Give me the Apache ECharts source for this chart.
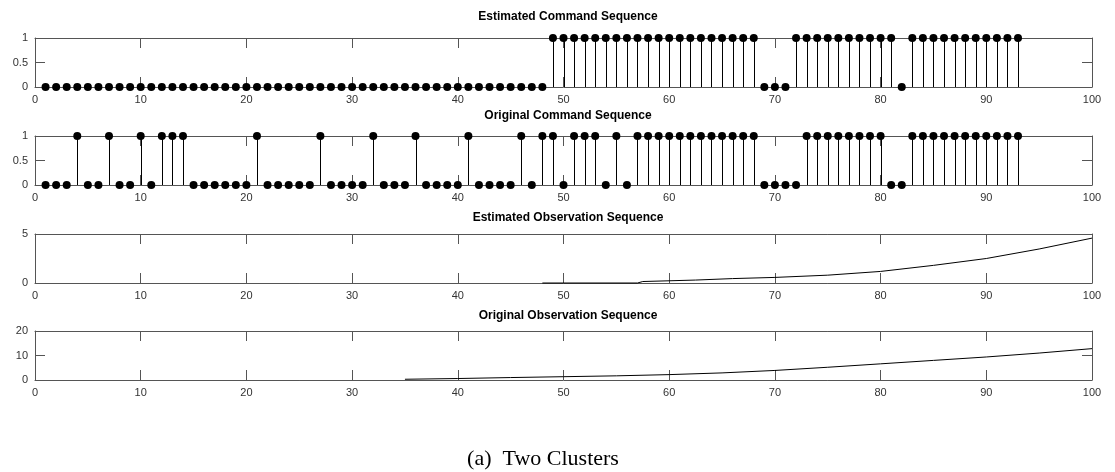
<!DOCTYPE html>
<html>
<head>
<meta charset="utf-8">
<script src="https://cdn.jsdelivr.net/npm/echarts@6/dist/echarts.min.js"></script>
<style>
html,body{margin:0;padding:0;background:#fff;}
#chart{width:1115px;height:472px;}
</style>
</head>
<body>
<div id="chart"></div>
<script>
// ---- data ----
const titles = ['Estimated Command Sequence', 'Original Command Sequence',
                'Estimated Observation Sequence', 'Original Observation Sequence'];
const caption = '(a)  Two Clusters';

const estimatedCommand = [
  0,0,0,0,0,0,0,0,0,0,
  0,0,0,0,0,0,0,0,0,0,
  0,0,0,0,0,0,0,0,0,0,
  0,0,0,0,0,0,0,0,0,0,
  0,0,0,0,0,0,0,0,1,1,
  1,1,1,1,1,1,1,1,1,1,
  1,1,1,1,1,1,1,1,0,0,
  0,1,1,1,1,1,1,1,1,1,
  1,0,1,1,1,1,1,1,1,1,
  1,1,1
];
const originalCommand = [
  0,0,0,1,0,0,1,0,0,1,
  0,1,1,1,0,0,0,0,0,0,
  1,0,0,0,0,0,1,0,0,0,
  0,1,0,0,0,1,0,0,0,0,
  1,0,0,0,0,1,0,1,1,0,
  1,1,1,0,1,0,1,1,1,1,
  1,1,1,1,1,1,1,1,0,0,
  0,0,1,1,1,1,1,1,1,1,
  0,0,1,1,1,1,1,1,1,1,
  1,1,1
];
const estObsX = [48, 57, 57.5, 62.5, 66, 70, 75, 80, 85, 90, 95, 100];
const estObsY = [0, 0, 0.15, 0.3, 0.45, 0.57, 0.8, 1.18, 1.8, 2.5, 3.47, 4.58];
const origObsX = [35, 40, 45, 50, 55, 60, 65, 70, 75, 80, 85, 90, 95, 100];
const origObsY = [0.3, 0.6, 1.0, 1.35, 1.7, 2.2, 2.9, 3.9, 5.2, 6.6, 8.0, 9.4, 11.0, 12.8];

const xTicks = {min: 0, max: 100, interval: 10};
const yTicks = [
  {min: 0, max: 1, interval: 0.5},
  {min: 0, max: 1, interval: 0.5},
  {min: 0, max: 5, interval: 5},
  {min: 0, max: 20, interval: 10}
];

// ---- layout ----
const gridTops = [38, 136, 234, 331];
const titleTops = [6, 105, 207, 305];
const gridH = 49;
const gridLeft = 35, gridRight = 23;
const axisColor = '#555';
const labelColor = '#333';
const font = 'Liberation Sans, Arial, Helvetica, sans-serif';

const chart = echarts.init(document.getElementById('chart'), null, {renderer: 'canvas'});

const grids = [], xAxes = [], yAxes = [], series = [], titleArr = [];
const lineStyle = {color: axisColor, width: 1};

gridTops.forEach((top, k) => {
  grids.push({left: gridLeft, right: gridRight, top: top, height: gridH, containLabel: false});
  xAxes.push({
    type: 'value', gridIndex: k, position: 'bottom', ...xTicks,
    axisLine: {show: true, onZero: false, lineStyle},
    axisTick: {show: true, inside: true, length: 10, lineStyle},
    axisLabel: {show: true, color: labelColor, fontSize: 11, fontFamily: font, margin: 7},
    splitLine: {show: false}
  });
  xAxes.push({
    type: 'value', gridIndex: k, position: 'top', ...xTicks,
    axisLine: {show: true, onZero: false, lineStyle},
    axisTick: {show: true, inside: true, length: 10, lineStyle},
    axisLabel: {show: false},
    splitLine: {show: false}
  });
  yAxes.push({
    type: 'value', gridIndex: k, position: 'left', ...yTicks[k],
    axisLine: {show: true, onZero: false, lineStyle},
    axisTick: {show: true, inside: true, length: 10, lineStyle},
    axisLabel: {show: true, color: labelColor, fontSize: 11, fontFamily: font, margin: 7},
    splitLine: {show: false}
  });
  yAxes.push({
    type: 'value', gridIndex: k, position: 'right', ...yTicks[k],
    axisLine: {show: true, onZero: false, lineStyle},
    axisTick: {show: true, inside: true, length: 10, lineStyle},
    axisLabel: {show: false},
    splitLine: {show: false}
  });
  titleArr.push({
    text: titles[k], left: 563, top: titleTops[k], textAlign: 'center',
    textStyle: {fontSize: 12, fontWeight: 'bold', color: '#000', fontFamily: font}
  });
});

titleArr.push({
  text: caption, left: 538, top: 443, textAlign: 'center',
  textStyle: {fontSize: 22, fontWeight: 'normal', color: '#000', fontFamily: 'Liberation Serif, Times New Roman, serif'}
});

function stemSeries(values, k) {
  const data = values.map((v, i) => [i + 1, v]);
  series.push({
    type: 'custom', xAxisIndex: 2 * k, yAxisIndex: 2 * k, clip: false, silent: true,
    data: data,
    encode: {x: 0, y: 1},
    renderItem: function (params, api) {
      const x = api.value(0), y = api.value(1);
      if (!y) return null;
      const p0 = api.coord([x, 0]);
      const p1 = api.coord([x, y]);
      const px = Math.round(p0[0]) + 0.5;
      return {type: 'line', shape: {x1: px, y1: p0[1], x2: px, y2: p1[1]},
              style: {stroke: '#000', lineWidth: 1}};
    },
    z: 3
  });
  series.push({
    type: 'scatter', xAxisIndex: 2 * k, yAxisIndex: 2 * k, clip: false, silent: true,
    symbol: 'circle', symbolSize: 8, itemStyle: {color: '#000', opacity: 1},
    data: data, z: 4
  });
}
stemSeries(estimatedCommand, 0);
stemSeries(originalCommand, 1);

series.push({
  type: 'line', xAxisIndex: 4, yAxisIndex: 4, showSymbol: false, silent: true,
  lineStyle: {color: '#000', width: 1}, clip: false,
  data: estObsX.map((x, i) => [x, estObsY[i]]), z: 4
});
series.push({
  type: 'line', xAxisIndex: 6, yAxisIndex: 6, showSymbol: false, silent: true,
  lineStyle: {color: '#000', width: 1}, clip: false,
  data: origObsX.map((x, i) => [x, origObsY[i]]), z: 4
});

chart.setOption({
  animation: false,
  backgroundColor: '#fff',
  title: titleArr,
  grid: grids,
  xAxis: xAxes,
  yAxis: yAxes,
  series: series
});
</script>
</body>
</html>
